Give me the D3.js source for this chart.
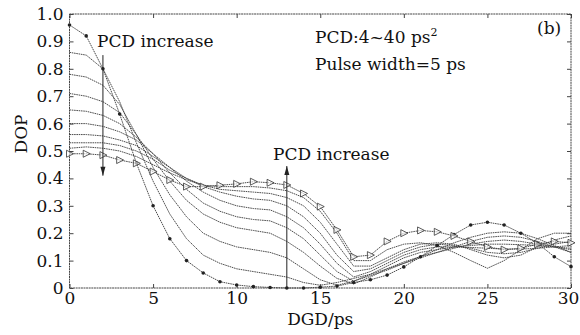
<!doctype html>
<html>
<head>
    <meta charset="UTF-8">
    <title>DOP vs DGD</title>
    <script src="https://cdn.jsdelivr.net/npm/d3@7"></script>
    <style>
        body { margin: 0; background: #fff; }
        text { font-family: "DejaVu Serif", serif; fill: #111; }
    </style>
</head>
<body>

    <div id="chart"></div>

    <script>

        var width = 580,
            height = 335;

        // DGD sample points (ps)
        var dgd = d3.range(0, 31);

        // DOP for PCD = 4 ps^2 (dots) ... 40 ps^2 (triangles)
        var pcd4  = [0.96,0.92,0.80,0.635,0.456,0.30,0.18,0.10,0.055,0.023,0.011,0.005,0.002,0.0,0.0,0.003,0.007,0.02,0.03,0.047,0.077,0.114,0.155,0.195,0.23,0.24,0.23,0.20,0.163,0.114,0.078];
        var pcd8  = [0.86,0.85,0.80,0.68,0.53,0.39,0.27,0.18,0.12,0.09,0.07,0.06,0.05,0.04,0.02,0.01,0.02,0.035,0.05,0.07,0.09,0.115,0.14,0.165,0.185,0.2,0.205,0.2,0.18,0.155,0.13];
        var pcd12 = [0.78,0.77,0.74,0.67,0.56,0.44,0.34,0.26,0.20,0.17,0.15,0.14,0.13,0.11,0.07,0.03,0.01,0.025,0.045,0.065,0.09,0.11,0.13,0.15,0.17,0.185,0.19,0.185,0.17,0.15,0.13];
        var pcd16 = [0.71,0.70,0.68,0.64,0.56,0.47,0.39,0.32,0.27,0.24,0.22,0.21,0.20,0.17,0.13,0.08,0.035,0.015,0.04,0.07,0.095,0.115,0.13,0.145,0.16,0.17,0.175,0.17,0.16,0.15,0.14];
        var pcd20 = [0.65,0.645,0.63,0.60,0.55,0.49,0.42,0.36,0.31,0.28,0.26,0.25,0.245,0.22,0.18,0.12,0.06,0.025,0.05,0.08,0.11,0.13,0.14,0.15,0.155,0.16,0.16,0.158,0.155,0.15,0.145];
        var pcd24 = [0.60,0.60,0.59,0.57,0.54,0.49,0.44,0.39,0.35,0.32,0.30,0.29,0.285,0.26,0.22,0.16,0.09,0.04,0.06,0.09,0.12,0.14,0.15,0.15,0.148,0.145,0.142,0.142,0.145,0.15,0.155];
        var pcd28 = [0.56,0.56,0.555,0.54,0.52,0.48,0.44,0.40,0.37,0.35,0.335,0.325,0.32,0.30,0.26,0.20,0.12,0.06,0.07,0.10,0.13,0.15,0.16,0.155,0.145,0.13,0.125,0.13,0.145,0.16,0.17];
        var pcd32 = [0.53,0.53,0.53,0.52,0.50,0.47,0.43,0.40,0.375,0.36,0.355,0.35,0.345,0.33,0.30,0.24,0.16,0.08,0.08,0.11,0.14,0.16,0.165,0.16,0.14,0.12,0.11,0.12,0.15,0.175,0.19];
        var pcd36 = [0.51,0.515,0.51,0.50,0.48,0.45,0.42,0.395,0.375,0.37,0.37,0.37,0.365,0.355,0.33,0.28,0.20,0.10,0.10,0.14,0.16,0.165,0.155,0.13,0.10,0.072,0.10,0.14,0.18,0.20,0.20];
        var pcd40 = [0.49,0.49,0.485,0.467,0.455,0.425,0.394,0.37,0.37,0.375,0.38,0.388,0.384,0.376,0.345,0.297,0.212,0.114,0.12,0.17,0.20,0.21,0.205,0.19,0.17,0.15,0.14,0.145,0.16,0.17,0.165];

        var series = [pcd4, pcd8, pcd12, pcd16, pcd20, pcd24, pcd28, pcd32, pcd36, pcd40];

        var xTicks = [0, 5, 10, 15, 20, 25, 30];
        var yTicks = [0, 0.1, 0.2, 0.3, 0.4, 0.5, 0.6, 0.7, 0.8, 0.9, 1.0];

        var x = d3.scaleLinear().domain([0, 30]).range([69.5, 571]);
        var y = d3.scaleLinear().domain([0, 1]).range([288, 14]);

        var svg = d3.select("#chart")
            .append("svg")
            .attr("width", width)
            .attr("height", height)

        var fmtY = function (d) { return d === 0 ? "0" : d3.format(".1f")(d); };

        // axes, ticks pointing inward
        var gx = svg.append("g")
            .attr("transform", "translate(0," + y(0) + ")")
            .call(d3.axisBottom(x).tickValues(xTicks).tickSize(-4).tickPadding(4));
        var gy = svg.append("g")
            .attr("transform", "translate(" + x(0) + ",0)")
            .call(d3.axisLeft(y).tickValues(yTicks).tickFormat(fmtY).tickSize(-4).tickPadding(6));
        var gt = svg.append("g")
            .attr("transform", "translate(0," + y(1) + ")")
            .call(d3.axisTop(x).tickValues(xTicks).tickSize(-4).tickFormat(""));
        var gr = svg.append("g")
            .attr("transform", "translate(" + x(30) + ",0)")
            .call(d3.axisRight(y).tickValues(yTicks).tickSize(-4).tickFormat(""));

        [gx, gy, gt, gr].forEach(function (g) {
            g.select(".domain").remove();
            g.selectAll("line").attr("stroke", "#444");
            g.selectAll("text")
                .style("font-family", "DejaVu Serif")
                .style("font-size", "17px")
                .attr("fill", "#111");
        });
        // last x label sits against the right edge
        gx.selectAll(".tick text").filter(function (d) { return d === 30; }).attr("dx", -3);

        svg.append("rect")
            .attr("x", x(0))
            .attr("y", y(1))
            .attr("width", x(30) - x(0))
            .attr("height", y(0) - y(1))
            .attr("fill", "none")
            .attr("stroke", "#444")
            .attr("stroke-width", 1)
            .attr("stroke-dasharray", "2,0.6");

        var line = d3.line()
            .x(function (d, i) { return x(dgd[i]); })
            .y(function (d) { return y(d); });

        svg.selectAll(".curve")
            .data(series)
            .enter()
            .append("path")
            .attr("class", "curve")
            .attr("d", line)
            .attr("fill", "none")
            .attr("stroke", "#3a3a3a")
            .attr("stroke-width", 0.9)
            .attr("stroke-dasharray", "1.6,0.7");

        // PCD 4: filled dots
        svg.selectAll(".dot")
            .data(pcd4)
            .enter()
            .append("circle")
            .attr("class", "dot")
            .attr("cx", function (d, i) { return x(dgd[i]); })
            .attr("cy", function (d) { return y(d); })
            .attr("r", 1.8)
            .attr("fill", "#222");

        // PCD 40: open right-pointing triangles
        svg.selectAll(".tri")
            .data(pcd40)
            .enter()
            .append("path")
            .attr("class", "tri")
            .attr("transform", function (d, i) { return "translate(" + x(dgd[i]) + "," + y(d) + ")"; })
            .attr("d", "M-3,-3.5L4,0L-3,3.5Z")
            .attr("fill", "#fff")
            .attr("fill-opacity", 0.6)
            .attr("stroke", "#333")
            .attr("stroke-width", 0.8);

        // arrows
        var arrow = function (xv, y1, y2) {
            svg.append("line")
                .attr("x1", x(xv)).attr("x2", x(xv))
                .attr("y1", y(y1)).attr("y2", y(y2))
                .attr("stroke", "#222")
                .attr("stroke-width", 1);
            var dir = y2 < y1 ? 1 : -1;
            var tip = y(y2);
            svg.append("path")
                .attr("d", "M" + x(xv) + "," + tip +
                    "L" + (x(xv) - 2.5) + "," + (tip - dir * 9) +
                    "L" + (x(xv) + 2.5) + "," + (tip - dir * 9) + "Z")
                .attr("fill", "#222");
        };
        arrow(2, 0.85, 0.41);
        arrow(13, 0, 0.445);

        var label = function (t, px, py) {
            return svg.append("text")
                .attr("x", px)
                .attr("y", py)
                .style("font-size", "17px")
                .text(t);
        };

        label("PCD increase", 97, 47);
        label("PCD increase", 273, 160);

        var t1 = label("PCD:4~40 ps", 315, 43);
        t1.append("tspan")
            .attr("dy", -7)
            .style("font-size", "11px")
            .text("2");
        label("Pulse width=5 ps", 315, 70);
        label("(b)", 537, 34);

        label("DGD/ps", 0, 0)
            .attr("x", (x(0) + x(30)) / 2)
            .attr("y", 325)
            .attr("text-anchor", "middle");

        svg.append("text")
            .attr("transform", "translate(27,134) rotate(-90)")
            .attr("text-anchor", "middle")
            .style("font-size", "17px")
            .text("DOP");

    </script>

</body>
</html>
